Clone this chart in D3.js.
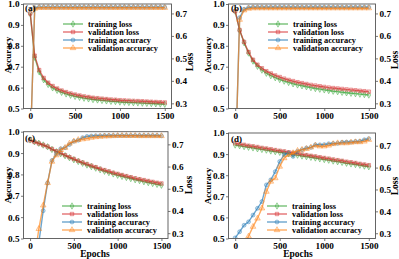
<!DOCTYPE html>
<html><head><meta charset="utf-8">
<script src="https://cdn.jsdelivr.net/npm/d3@7"></script>
<style>body{margin:0;background:#fff}svg text{font-family:"Liberation Serif","Times New Roman",serif;font-weight:bold}</style>
</head><body><svg id="c" width="399" height="259"></svg>
<script>
const epochs = [0,50,100,150,200,250,300,350,400,450,500,550,600,650,700,750,800,850,900,950,1000,1050,1100,1150,1200,1250,1300,1350,1400,1450,1500];
const accTicks = [0.5,0.6,0.7,0.8,0.9,1.0];
const lossTicks = [0.3,0.4,0.5,0.6,0.7];
const epochTicks = [0,500,1000,1500];
const seriesNames = ["training loss","validation loss","training accuracy","validation accuracy"];

// Panel (a)
const trainLossA = [0.700,0.505,0.440,0.405,0.384,0.369,0.358,0.349,0.342,0.336,0.331,0.327,0.323,0.320,0.317,0.315,0.313,0.311,0.309,0.308,0.306,0.305,0.304,0.303,0.302,0.301,0.300,0.299,0.298,0.297,0.296];
const valLossA   = [0.700,0.512,0.448,0.413,0.392,0.377,0.366,0.357,0.350,0.344,0.339,0.335,0.331,0.328,0.325,0.323,0.321,0.319,0.317,0.316,0.314,0.313,0.312,0.311,0.310,0.309,0.308,0.307,0.306,0.305,0.304];
const trainAccA  = [0.300,0.982,0.985,0.985,0.985,0.985,0.985,0.985,0.985,0.985,0.985,0.985,0.985,0.985,0.985,0.985,0.985,0.985,0.985,0.985,0.985,0.985,0.985,0.985,0.985,0.985,0.985,0.985,0.985,0.985,0.985];
const valAccA    = [0.300,0.978,0.982,0.982,0.982,0.982,0.982,0.982,0.982,0.982,0.982,0.982,0.982,0.982,0.982,0.982,0.982,0.982,0.982,0.982,0.982,0.982,0.982,0.982,0.982,0.982,0.982,0.982,0.982,0.982,0.982];

// Panel (b)
const trainLossB = [0.710,0.625,0.570,0.524,0.488,0.465,0.448,0.434,0.423,0.414,0.406,0.399,0.393,0.387,0.382,0.378,0.374,0.370,0.366,0.363,0.360,0.357,0.354,0.352,0.349,0.347,0.345,0.343,0.341,0.339,0.337];
const valLossB   = [0.710,0.626,0.573,0.528,0.494,0.472,0.456,0.443,0.433,0.424,0.417,0.410,0.404,0.399,0.394,0.390,0.386,0.382,0.379,0.376,0.373,0.370,0.368,0.366,0.364,0.362,0.360,0.358,0.356,0.354,0.352];
const trainAccB  = [0.200,0.935,0.975,0.983,0.985,0.985,0.985,0.985,0.985,0.985,0.985,0.985,0.985,0.985,0.985,0.985,0.985,0.985,0.985,0.985,0.985,0.985,0.985,0.985,0.985,0.985,0.985,0.985,0.985,0.985,0.985];
const valAccB    = [0.200,0.925,0.970,0.978,0.980,0.980,0.980,0.980,0.980,0.980,0.980,0.980,0.980,0.980,0.980,0.980,0.980,0.980,0.980,0.980,0.980,0.980,0.980,0.980,0.980,0.980,0.980,0.980,0.980,0.980,0.980];

// Panel (c)
const trainLossC = [0.720,0.712,0.705,0.697,0.689,0.677,0.667,0.658,0.649,0.640,0.631,0.623,0.615,0.607,0.600,0.593,0.586,0.579,0.573,0.567,0.561,0.556,0.551,0.546,0.541,0.537,0.532,0.528,0.524,0.520,0.516];
const valLossC   = [0.718,0.711,0.704,0.697,0.690,0.679,0.669,0.660,0.651,0.642,0.634,0.626,0.618,0.611,0.604,0.597,0.590,0.584,0.578,0.572,0.567,0.562,0.557,0.552,0.547,0.543,0.539,0.535,0.531,0.527,0.524];
const trainAccC  = [0.300,0.350,0.480,0.630,0.760,0.865,0.895,0.920,0.925,0.940,0.955,0.960,0.972,0.978,0.980,0.981,0.981,0.982,0.982,0.982,0.982,0.982,0.982,0.982,0.982,0.982,0.982,0.982,0.982,0.982,0.981];
const valAccC    = [0.300,0.400,0.545,0.655,0.760,0.860,0.890,0.915,0.925,0.945,0.955,0.962,0.965,0.968,0.972,0.975,0.977,0.978,0.979,0.980,0.981,0.981,0.981,0.981,0.981,0.980,0.980,0.980,0.980,0.980,0.980];

// Panel (d)
const trainLossD = [0.703,0.700,0.696,0.693,0.690,0.686,0.683,0.680,0.676,0.673,0.670,0.667,0.663,0.660,0.657,0.653,0.650,0.647,0.644,0.640,0.637,0.634,0.630,0.627,0.624,0.620,0.617,0.614,0.611,0.607,0.604];
const valLossD   = [0.711,0.707,0.704,0.700,0.697,0.694,0.690,0.687,0.684,0.680,0.677,0.674,0.670,0.667,0.664,0.660,0.657,0.654,0.651,0.647,0.644,0.641,0.637,0.634,0.631,0.627,0.624,0.621,0.617,0.614,0.611];
const trainAccD  = [0.503,0.532,0.563,0.579,0.611,0.643,0.675,0.754,0.778,0.817,0.865,0.897,0.905,0.889,0.913,0.921,0.929,0.932,0.944,0.944,0.945,0.949,0.950,0.951,0.956,0.957,0.957,0.960,0.961,0.968,0.973];
const valAccD    = [0.350,0.400,0.470,0.510,0.556,0.595,0.643,0.722,0.770,0.786,0.841,0.881,0.897,0.905,0.916,0.921,0.925,0.932,0.941,0.937,0.937,0.941,0.948,0.952,0.952,0.952,0.955,0.957,0.957,0.960,0.968];

const colors = ["#2ca02c","#d62728","#1f77b4","#ff7f0e"];
const symbols = [d3.symbolDiamond, d3.symbolSquare, d3.symbolCircle, d3.symbolTriangle];

const svg = d3.select("#c");

const panels = [
  {id:"a", x0:23.5, x1:171.5, y0:4, y1:108.5, lossDom:[0.277,0.742], data:[trainLossA,valLossA,trainAccA,valAccA],
   leg:{x:63, y:24}, accLab:{x:8, y:55}, lossLab:{x:190, y:62}, tag:{x:25, y:11}, epochsLab:null},
  {id:"b", x0:228.5, x1:375.5, y0:4, y1:108.5, lossDom:[0.277,0.742], data:[trainLossB,valLossB,trainAccB,valAccB],
   leg:{x:268, y:24}, accLab:{x:208, y:55}, lossLab:{x:395, y:60}, tag:{x:231, y:11}, epochsLab:null},
  {id:"c", x0:23.5, x1:168, y0:131.7, y1:238.5, lossDom:[0.276,0.757], data:[trainLossC,valLossC,trainAccC,valAccC],
   leg:{x:62, y:206}, accLab:{x:8, y:185}, lossLab:{x:189, y:185}, tag:{x:25, y:141}, epochsLab:{x:95, y:254}},
  {id:"d", x0:228.5, x1:375.5, y0:133, y1:238.5, lossDom:[0.276,0.758], data:[trainLossD,valLossD,trainAccD,valAccD],
   leg:{x:267, y:206}, accLab:{x:208, y:186}, lossLab:{x:395, y:186}, tag:{x:231, y:142}, epochsLab:{x:298, y:254}}
];

panels.forEach(p => {
  const g = svg.append("g");
  const x = d3.scaleLinear().domain([-75,1575]).range([p.x0,p.x1]);
  const yA = d3.scaleLinear().domain([0.5,1.0]).range([p.y1,p.y0]);
  const yL = d3.scaleLinear().domain(p.lossDom).range([p.y1,p.y0]);
  const clipId = "clip-"+p.id;
  svg.append("clipPath").attr("id",clipId).append("rect")
    .attr("x",p.x0).attr("y",p.y0).attr("width",p.x1-p.x0).attr("height",p.y1-p.y0);
  const plot = g.append("g").attr("clip-path",`url(#${clipId})`);
  [0,1,2,3].forEach(i => {
    const ys = i < 2 ? yL : yA;
    const vals = p.data[i];
    const pts = epochs.map((e,k)=>[x(e), ys(vals[k])]);
    plot.append("path").attr("d", d3.line()(pts)).attr("fill","none")
      .attr("stroke",colors[i]).attr("stroke-opacity",0.65).attr("stroke-width",1.4);
    plot.selectAll(null).data(pts).enter().append("path")
      .attr("d", d3.symbol().type(symbols[i]).size(i===3?14:12))
      .attr("transform",d=>`translate(${d[0]},${d[1]})`)
      .attr("fill",colors[i]).attr("fill-opacity",0.2)
      .attr("stroke",colors[i]).attr("stroke-opacity",0.6).attr("stroke-width",0.7);
  });
  const fmt = d3.format(".1f");
  const left = g.append("g").attr("transform",`translate(${p.x0},0)`)
    .call(d3.axisLeft(yA).tickValues(accTicks).tickFormat(fmt).tickSize(2.5).tickPadding(1.5));
  const right = g.append("g").attr("transform",`translate(${p.x1},0)`)
    .call(d3.axisRight(yL).tickValues(lossTicks).tickFormat(fmt).tickSize(2.5).tickPadding(1.5));
  const bottom = g.append("g").attr("transform",`translate(0,${p.y1})`)
    .call(d3.axisBottom(x).tickValues(epochTicks).tickFormat(d3.format("d")).tickSize(2.5).tickPadding(1));
  [left,right,bottom].forEach(a => {
    a.select(".domain").remove();
    a.selectAll("line").attr("stroke","#555").attr("stroke-width",0.8);
    a.selectAll("text").attr("font-size",9.2).attr("fill","#000")
      .style("font-family",'"Liberation Serif",serif').style("font-weight","bold");
  });
  g.append("rect").attr("x",p.x0).attr("y",p.y0).attr("width",p.x1-p.x0).attr("height",p.y1-p.y0)
    .attr("fill","none").attr("stroke","#555").attr("stroke-width",0.9);
  g.append("text").attr("transform",`translate(${p.accLab.x},${p.accLab.y}) rotate(-90)`)
    .attr("text-anchor","middle").attr("dy","0.35em").attr("font-size",9).text("Accuracy");
  g.append("text").attr("transform",`translate(${p.lossLab.x},${p.lossLab.y}) rotate(-90)`)
    .attr("text-anchor","middle").attr("dy","0.35em").attr("font-size",9.5).text("Loss");
  g.append("text").attr("x",p.tag.x).attr("y",p.tag.y).attr("font-size",9).text(`(${p.id})`);
  if (p.epochsLab) g.append("text").attr("x",p.epochsLab.x).attr("y",p.epochsLab.y)
    .attr("text-anchor","middle").attr("dy","0.35em").attr("font-size",9.5).text("Epochs");
  seriesNames.forEach((name,i) => {
    const ly = p.leg.y + i*8;
    g.append("line").attr("x1",p.leg.x).attr("x2",p.leg.x+20).attr("y1",ly).attr("y2",ly)
      .attr("stroke",colors[i]).attr("stroke-opacity",0.65).attr("stroke-width",1.4);
    g.append("path").attr("d", d3.symbol().type(symbols[i]).size(i===3?14:12))
      .attr("transform",`translate(${p.leg.x+10},${ly})`)
      .attr("fill",colors[i]).attr("fill-opacity",0.2)
      .attr("stroke",colors[i]).attr("stroke-opacity",0.6).attr("stroke-width",0.7);
    g.append("text").attr("x",p.leg.x+25).attr("y",ly).attr("dy","0.32em")
      .attr("font-size",8.4).text(name);
  });
});
</script></body></html>
